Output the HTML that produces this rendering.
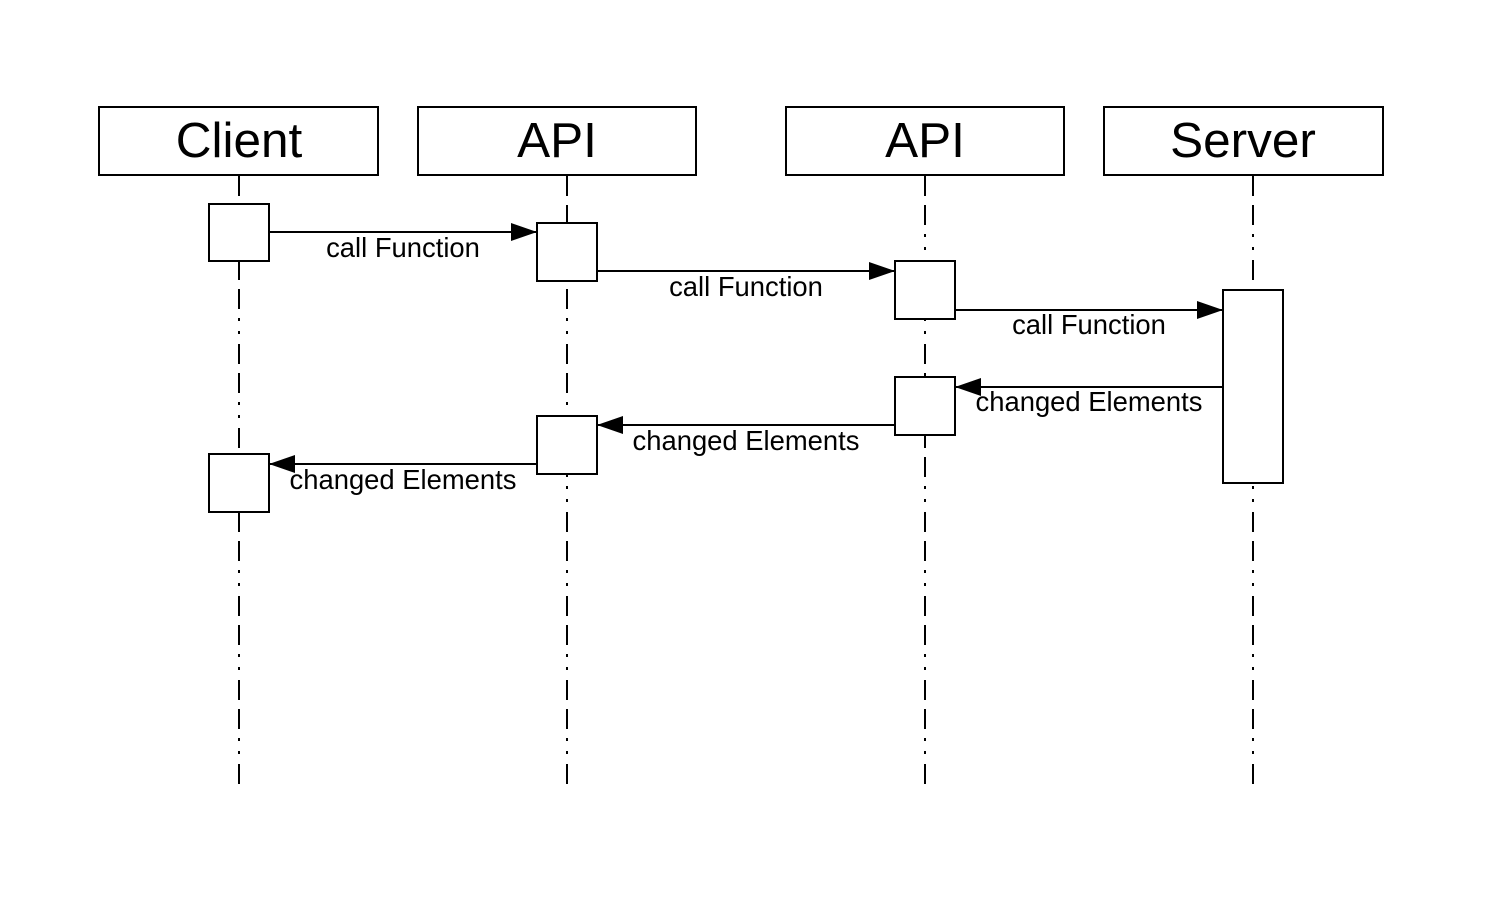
<!DOCTYPE html>
<html><head><meta charset="utf-8"><style>
html,body{margin:0;padding:0;background:#fff}
text{font-family:"Liberation Sans",sans-serif;fill:#000}
</style></head><body>
<svg width="1488" height="898" viewBox="0 0 1488 898" xmlns="http://www.w3.org/2000/svg">
<defs>
<marker id="a" markerWidth="26" markerHeight="18" refX="26" refY="9" orient="auto" markerUnits="userSpaceOnUse">
<path d="M0,0 L26,9 L0,18 Z" fill="#000"/>
</marker>
</defs>
<g stroke="#000" stroke-width="2" stroke-dasharray="20,9,20,9,3,10,3,10" fill="none">
<line x1="239" y1="176" x2="239" y2="792"/>
<line x1="567" y1="176" x2="567" y2="792"/>
<line x1="925" y1="176" x2="925" y2="792"/>
<line x1="1253" y1="176" x2="1253" y2="792"/>
</g>
<g stroke="#000" stroke-width="2" fill="#fff">
<rect x="99" y="107" width="279" height="68"/>
<rect x="418" y="107" width="278" height="68"/>
<rect x="786" y="107" width="278" height="68"/>
<rect x="1104" y="107" width="279" height="68"/>
<rect x="209" y="204" width="60" height="57"/>
<rect x="537" y="223" width="60" height="58"/>
<rect x="895" y="261" width="60" height="58"/>
<rect x="1223" y="290" width="60" height="193"/>
<rect x="895" y="377" width="60" height="58"/>
<rect x="537" y="416" width="60" height="58"/>
<rect x="209" y="454" width="60" height="58"/>
</g>
<g font-size="49.5" text-anchor="middle">
<text x="239" y="157">Client</text>
<text x="557" y="157">API</text>
<text x="925" y="157">API</text>
<text x="1243" y="157">Server</text>
</g>
<g stroke="#000" stroke-width="2" marker-end="url(#a)">
<line x1="269" y1="232" x2="537" y2="232"/>
<line x1="597" y1="271" x2="895" y2="271"/>
<line x1="955" y1="310" x2="1223" y2="310"/>
<line x1="1223" y1="387" x2="955" y2="387"/>
<line x1="895" y1="425" x2="597" y2="425"/>
<line x1="537" y1="464" x2="269" y2="464"/>
</g>
<g font-size="27.4" text-anchor="middle">
<text x="403" y="257">call Function</text>
<text x="746" y="296">call Function</text>
<text x="1089" y="334">call Function</text>
<text x="1089" y="411">changed Elements</text>
<text x="746" y="450">changed Elements</text>
<text x="403" y="489">changed Elements</text>
</g>
</svg>
</body></html>
